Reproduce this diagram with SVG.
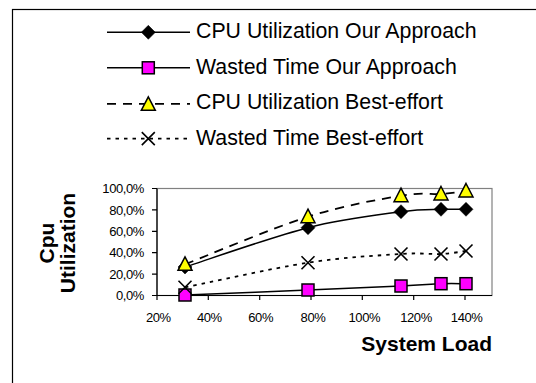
<svg xmlns="http://www.w3.org/2000/svg" width="536" height="383" viewBox="0 0 536 383">
<style>
text{font-family:"Liberation Sans",Arial,sans-serif;fill:#000}
.leg{font-size:21.3px}
.tick{font-size:13px;letter-spacing:-0.4px}
.ttl{font-size:21px;font-weight:bold}
.solid{fill:none;stroke:#000;stroke-width:1.5}
.dash{fill:none;stroke:#000;stroke-width:1.8;stroke-dasharray:9 7}
.dot{fill:none;stroke:#000;stroke-width:1.8;stroke-dasharray:3.5 5}
.ax{stroke:#000;stroke-width:1.2;fill:none}
</style>
<defs>
<path id="dia" d="M0,-7 L7,0 L0,7 L-7,0 Z" fill="#000" stroke="#000" stroke-width="0.5"/>
<rect id="sq" x="-6" y="-6" width="12" height="12" fill="#FF00FF" stroke="#000" stroke-width="1.5"/>
<path id="tri" d="M0,-7.5 L7,6 L-7,6 Z" fill="#FFFF00" stroke="#000" stroke-width="1.5" stroke-linejoin="miter"/>
<path id="ex" d="M-6.5,-6.5 L6.5,6.5 M-6.5,6.5 L6.5,-6.5" fill="none" stroke="#000" stroke-width="1.6"/>
</defs>
<rect width="536" height="383" fill="#fff"/>
<g id="frame"><rect x="12.5" y="9.5" width="600" height="420" fill="none" stroke="#000" stroke-width="1.2"/></g>

<g id="legend">
<g id="leg1"><line x1="107" y1="32.3" x2="190" y2="32.3" class="solid" stroke-width="1.2"/><use href="#dia" x="148.3" y="32.3"/><text class="leg" x="196" y="38.3">CPU Utilization Our Approach</text></g>
<g id="leg2"><line x1="107" y1="67.8" x2="190" y2="67.8" class="solid" stroke-width="1.2"/><use href="#sq" x="148.3" y="67.8"/><text class="leg" x="196" y="73.8">Wasted Time Our Approach</text></g>
<g id="leg3"><path d="M107,103.8 H190" class="dash" stroke-dasharray="9.3 8"/><use href="#tri" x="148.3" y="104.3"/><text class="leg" x="196" y="109.3">CPU Utilization Best-effort</text></g>
<g id="leg4"><path d="M107,138.6 H190" class="dot" stroke-dasharray="4 4.5"/><use href="#ex" x="148.3" y="138.6"/><text class="leg" x="196" y="144.8">Wasted Time Best-effort</text></g>
</g>

<g id="plot">
<rect x="157" y="188.5" width="335" height="107" fill="#fff" stroke="#808080" stroke-width="1.2"/>
<path class="ax" d="M157,188.5 V295.5 H492"/>
<path class="ax" d="M152,188.5 H157 M152,209.9 H157 M152,231.3 H157 M152,252.7 H157 M152,274.1 H157 M152,295.5 H157"/>
<path class="ax" d="M157,295.5 V300 M208.3,295.5 V300 M259.7,295.5 V300 M311,295.5 V300 M362.3,295.5 V300 M413.7,295.5 V300 M465,295.5 V300"/>
</g>

<g id="yaxis" text-anchor="end">
<text class="tick" x="144" y="193.2">100,0%</text>
<text class="tick" x="144" y="214.6">80,0%</text>
<text class="tick" x="144" y="236">60,0%</text>
<text class="tick" x="144" y="257.4">40,0%</text>
<text class="tick" x="144" y="278.8">20,0%</text>
<text class="tick" x="144" y="300.2">0,0%</text>
<text class="ttl" transform="translate(53.5,243) rotate(-90)" text-anchor="middle">Cpu</text>
<text class="ttl" transform="translate(75,243) rotate(-90)" text-anchor="middle">Utilization</text>
</g>

<g id="xaxis" text-anchor="middle">
<text class="tick" x="158.3" y="321.5">20%</text>
<text class="tick" x="209.3" y="321.5">40%</text>
<text class="tick" x="260.7" y="321.5">60%</text>
<text class="tick" x="313" y="321.5">80%</text>
<text class="tick" x="364.3" y="321.5">100%</text>
<text class="tick" x="416" y="321.5">120%</text>
<text class="tick" x="466.7" y="321.5">140%</text>
<text class="ttl" x="492" y="351" text-anchor="end">System Load</text>
</g>

<g id="connectors">
<path id="s-wo" class="solid" d="M185,295 C205.5,294.2 272,291.5 308,290 C344,288.5 378.8,287.05 401,286 C423.2,284.95 430.2,284.1 441,283.7 C451.8,283.3 461.8,283.7 466,283.7"/>
<path id="s-wb" class="dot" d="M185,287.3 C205.5,283.2 272,268.25 308,262.7 C344,257.15 378.8,255.45 401,254 C423.2,252.55 430.2,254.5 441,254 C451.8,253.5 461.8,251.5 466,251"/>
<path id="s-co" class="solid" d="M185,267 C205.5,260.45 272,236.9 308,227.7 C344,218.5 378.8,214.8 401,211.7 C423.2,208.6 430.2,209.7 441,209.3 C451.8,208.9 461.8,209.3 466,209.3"/>
<path id="s-cb" class="dash" d="M185,264.3 C205.5,256.4 272,228.1 308,216.7 C344,205.3 378.8,199.5 401,195.7 C423.2,191.9 430.2,194.8 441,194 C451.8,193.2 461.8,191.5 466,191"/>
</g>

<g id="markers">
<g id="m-co"><use href="#dia" x="185" y="267"/><use href="#dia" x="308" y="227.7"/><use href="#dia" x="401" y="211.7"/><use href="#dia" x="441" y="209.3"/><use href="#dia" x="466" y="209.3"/></g>
<g id="m-wo"><use href="#sq" x="185" y="295"/><use href="#sq" x="308" y="290"/><use href="#sq" x="401" y="286"/><use href="#sq" x="441" y="283.7"/><use href="#sq" x="466" y="283.7"/></g>
<g id="m-cb"><use href="#tri" x="185" y="264.3"/><use href="#tri" x="308" y="216.7"/><use href="#tri" x="401" y="195.7"/><use href="#tri" x="441" y="194"/><use href="#tri" x="466" y="191"/></g>
<g id="m-wb"><use href="#ex" x="185" y="287.3"/><use href="#ex" x="308" y="262.7"/><use href="#ex" x="401" y="254"/><use href="#ex" x="441" y="254"/><use href="#ex" x="466" y="251"/></g>
</g>
</svg>
